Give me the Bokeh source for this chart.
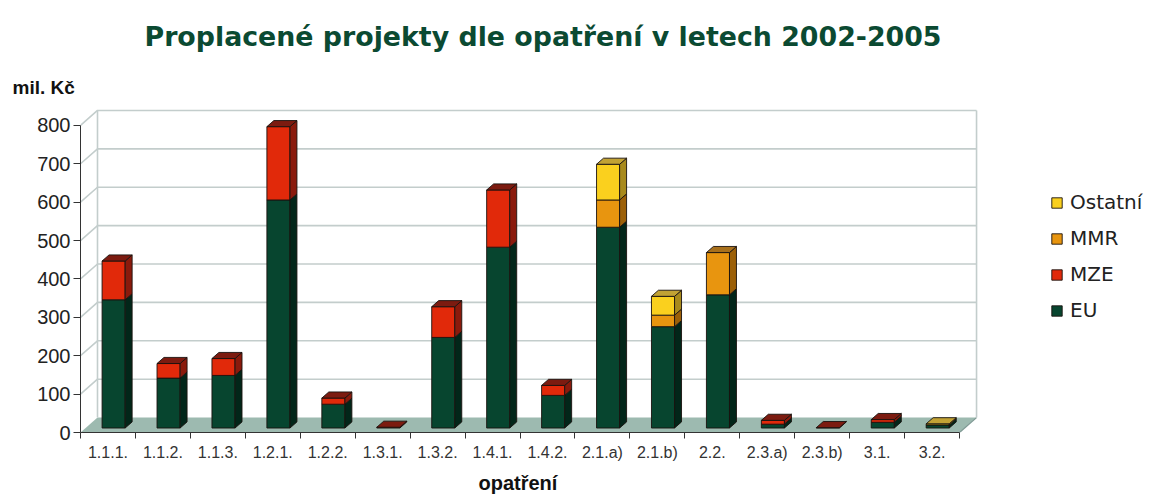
from bokeh.plotting import figure
from bokeh.models import Range1d, FixedTicker, Title, Legend, LegendItem, ColumnDataSource
from bokeh.embed import file_html
from bokeh.resources import INLINE

# ---------------- data ----------------
categories = ["1.1.1.", "1.1.2.", "1.1.3.", "1.2.1.", "1.2.2.", "1.3.1.", "1.3.2.", "1.4.1.",
              "1.4.2.", "2.1.a)", "2.1.b)", "2.2.", "2.3.a)", "2.3.b)", "3.1.", "3.2."]
eu      = [334, 130, 137, 594, 62, 0, 236, 471, 85, 523, 264, 347, 10, 0, 15, 8]
mze     = [101, 38, 44, 191, 16, 2, 80, 149, 26, 0, 0, 0, 10, 1, 7, 0]
mmr     = [0, 0, 0, 0, 0, 0, 0, 0, 0, 71, 30, 110, 0, 0, 0, 0]
ostatni = [0, 0, 0, 0, 0, 0, 0, 0, 0, 93, 49, 0, 0, 0, 0, 3]
series_names = ["EU", "MZE", "MMR", "Ostatní"]
y_ticks = [0, 100, 200, 300, 400, 500, 600, 700, 800]
title_text = "Proplacené projekty dle opatření v letech 2002-2005"
y_unit = "mil. Kč"
x_title = "opatření"

series_values = [eu, mze, mmr, ostatni]

# ---------------- style ----------------
front_col = {"EU": "#07452f", "MZE": "#e1290a", "MMR": "#e8950f", "Ostatní": "#fad01e"}
side_col = {"EU": "#022619", "MZE": "#8a1a0c", "MMR": "#9c6008", "Ostatní": "#a88a1c"}
top_col = {"EU": "#17382a", "MZE": "#7c1b10", "MMR": "#a8701c", "Ostatní": "#c2a234"}
edge = "#1a120e"

W, H = 1156, 504
LB, RB, TB, BB = 80, 0, 100, 72
PX_X = 54.94
PX_Y = 0.38625
FW, FH = W - LB - RB, H - TB - BB
n = len(categories)

DX = 17 / PX_X
DY = 15 / PX_Y
D1, D2 = 0.30, 0.71
BAR_OFF, BAR_W = 0.30, 0.42

p = figure(width=W, height=H, output_backend="svg", toolbar_location=None,
           x_range=Range1d(0, FW / PX_X), y_range=Range1d(0, FH / PX_Y),
           min_border_left=LB, min_border_right=RB, min_border_top=TB, min_border_bottom=BB)
p.outline_line_color = None
p.grid.visible = False
p.background_fill_color = "white"
p.border_fill_color = "white"

# floor
p.patch([0, n, n + DX, DX], [0, 0, DY, DY], fill_color="#9dbab0", line_color=None)
p.line([n, n + DX], [0, DY], line_color="#7f9994", line_width=1.2)

# walls / grid
gxs, gys = [], []
for v in y_ticks[1:]:
    gxs.append([0, DX, n + DX])
    gys.append([v, v + DY, v + DY])
gxs.append([DX, DX]); gys.append([DY, y_ticks[-1] + DY])
gxs.append([n + DX, n + DX]); gys.append([DY, y_ticks[-1] + DY])
p.multi_line(gxs, gys, line_color="#c3cdcc", line_width=1.6)

# bars
front = {s: dict(left=[], right=[], bottom=[], top=[]) for s in series_names}
sides = {s: dict(xs=[], ys=[]) for s in series_names}
tops = {s: dict(xs=[], ys=[]) for s in series_names}
ddx, ddy = (D2 - D1) * DX, (D2 - D1) * DY
for i in range(n):
    base = 0
    last = None
    left = i + BAR_OFF + D1 * DX
    right = left + BAR_W
    for s, vals in zip(series_names, series_values):
        v = vals[i]
        if v <= 0:
            continue
        b = D1 * DY + base
        t = b + v
        front[s]["left"].append(left); front[s]["right"].append(right)
        front[s]["bottom"].append(b); front[s]["top"].append(t)
        sides[s]["xs"].append([right, right + ddx, right + ddx, right])
        sides[s]["ys"].append([b, b + ddy, t + ddy, t])
        base += v
        last = (s, t)
    if last:
        s, t = last
        tops[s]["xs"].append([left, right, right + ddx, left + ddx])
        tops[s]["ys"].append([t, t, t + ddy, t + ddy])

front_r = {}
for s in series_names:
    front_r[s] = p.quad(source=ColumnDataSource(front[s]), left="left", right="right",
                        bottom="bottom", top="top", fill_color=front_col[s],
                        line_color=edge, line_width=0.9)
    p.patches(sides[s]["xs"], sides[s]["ys"], fill_color=side_col[s], line_color=edge, line_width=0.9)
for s in series_names:
    if tops[s]["xs"]:
        p.patches(tops[s]["xs"], tops[s]["ys"], fill_color=top_col[s], line_color=edge, line_width=0.9)

# axes
ax = p.xaxis[0]
ax.ticker = FixedTicker(ticks=[i + 0.5 for i in range(n)], minor_ticks=list(range(n + 1)))
ax.major_label_overrides = {i + 0.5: c for i, c in enumerate(categories)}
ax.bounds = (0, n)
ax.major_tick_out = 0
ax.major_tick_in = 0
ax.minor_tick_out = 6
ax.minor_tick_in = 0
ax.minor_tick_line_color = "#333333"
ax.axis_line_color = "#333333"
ax.major_label_standoff = 5
ax.major_label_text_font = "Liberation Sans"
ax.major_label_text_font_size = "16px"
ax.major_label_text_color = "#333333"

ay = p.yaxis[0]
ay.ticker = FixedTicker(ticks=y_ticks, minor_ticks=[])
ay.bounds = (0, y_ticks[-1])
ay.major_tick_out = 7
ay.major_tick_in = 0
ay.minor_tick_out = 0
ay.minor_tick_in = 0
ay.axis_line_color = "#333333"
ay.major_tick_line_color = "#333333"
ay.major_label_standoff = 3
ay.major_label_text_font = "Liberation Sans"
ay.major_label_text_font_size = "20px"
ay.major_label_text_color = "#222222"

# x axis title, below the axis, centred under the categories
p.add_layout(Title(text=x_title, align="left", offset=398, standoff=12,
                   text_font="Liberation Sans", text_font_style="bold", text_font_size="20px",
                   text_color="#111111"), "below")

# unit label, directly above the frame
p.add_layout(Title(text=y_unit, align="left", offset=-68, standoff=9,
                   text_font="Liberation Sans", text_font_style="bold", text_font_size="19px",
                   text_color="#111111"), "above")

# main title
p.title.text = title_text
p.title.text_font = "DejaVu Sans"
p.title.text_font_size = "26.8px"
p.title.text_font_style = "bold"
p.title.text_color = "#0b4a32"
p.title.align = "left"
p.title.offset = 64
p.title.standoff = 37

# legend
legend = Legend(items=[LegendItem(label=s, renderers=[front_r[s]]) for s in reversed(series_names)],
                location=(970, 110))
legend.background_fill_alpha = 0
legend.border_line_color = None
legend.padding = 0
legend.margin = 0
legend.spacing = 12
legend.glyph_width = 13
legend.glyph_height = 13
legend.label_standoff = 7
legend.label_text_font = "DejaVu Sans"
legend.label_text_font_size = "20px"
legend.label_text_color = "#222222"
p.add_layout(legend)

open("out.html", "w").write(file_html(p, INLINE))
